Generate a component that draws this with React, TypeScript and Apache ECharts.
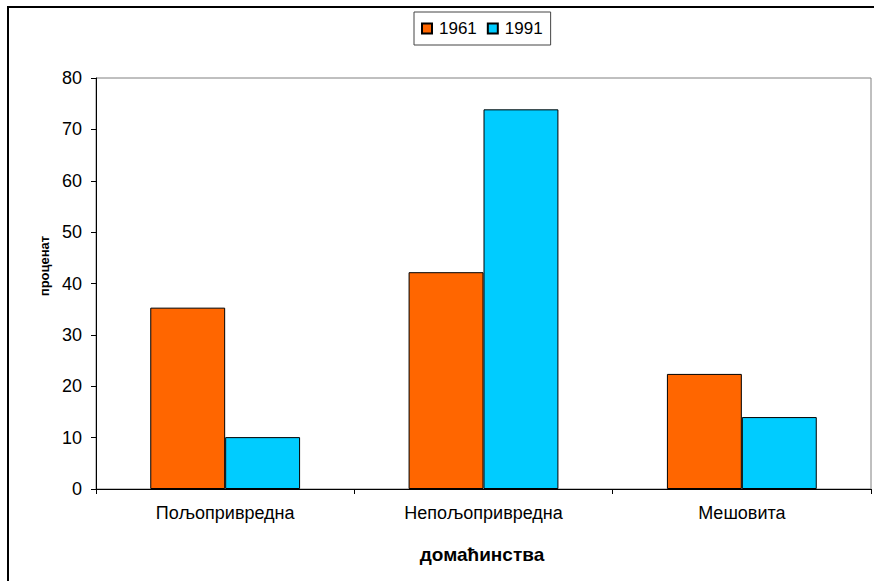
import React, { useEffect, useRef } from "react";
import * as echarts from "echarts";

const categories = ["Пољопривредна", "Непољопривредна", "Мешовита"];
const series1961 = [35.3, 42.2, 22.4];
const series1991 = [10.1, 73.9, 14.0];
const seriesNames = ["1961", "1991"];
const yTicks = { min: 0, max: 80, interval: 10 };

const FONT = "'Liberation Sans', Arial, sans-serif";

export default function App() {
  const ref = useRef<HTMLDivElement>(null);
  useEffect(() => {
    if (!ref.current) return;
    const chart = echarts.init(ref.current, null, { renderer: "svg" });
    chart.setOption({
      animation: false,
      backgroundColor: "#ffffff",
      textStyle: { fontFamily: FONT, color: "#000" },
      graphic: [
        {
          type: "rect",
          shape: { x: 8, y: 7, width: 900, height: 600 },
          style: { fill: "none", stroke: "#000", lineWidth: 2 },
          silent: true,
          z: 0,
        },
        {
          type: "text",
          x: 44,
          y: 266,
          rotation: Math.PI / 2,
          style: {
            text: "проценат",
            fontFamily: FONT,
            fontWeight: "bold",
            fontSize: 13,
            fill: "#000",
            align: "center",
            verticalAlign: "middle",
          },
        },
        {
          type: "text",
          x: 482,
          y: 554,
          style: {
            text: "домаћинства",
            fontFamily: FONT,
            fontWeight: "bold",
            fontSize: 19,
            fill: "#000",
            align: "center",
            verticalAlign: "middle",
          },
        },
      ],
      legend: {
        data: seriesNames,
        left: 414,
        top: 12,
        padding: [8, 8, 8, 7],
        itemGap: 10,
        itemWidth: 10,
        itemHeight: 10,
        icon: "rect",
        borderColor: "#444",
        borderWidth: 1,
        textStyle: { fontFamily: FONT, fontSize: 17, color: "#000", padding: [0, 0, 0, 2] },
      },
      grid: {
        left: 96,
        right: 3,
        top: 78,
        bottom: 92,
        show: true,
        borderColor: "#808080",
        borderWidth: 1,
        containLabel: false,
      },
      xAxis: {
        type: "category",
        data: categories,
        axisLine: { show: true, lineStyle: { color: "#000", width: 1 } },
        axisTick: { show: true, inside: false, length: 5, alignWithLabel: false, lineStyle: { color: "#000" } },
        axisLabel: { fontFamily: FONT, fontSize: 18, color: "#000", margin: 15 },
        splitLine: { show: false },
      },
      yAxis: {
        type: "value",
        min: yTicks.min,
        max: yTicks.max,
        interval: yTicks.interval,
        axisLine: { show: true, lineStyle: { color: "#000", width: 1 } },
        axisTick: { show: true, inside: false, length: 5, lineStyle: { color: "#000" } },
        axisLabel: { fontFamily: FONT, fontSize: 18, color: "#000", margin: 14 },
        splitLine: { show: false },
      },
      series: [
        {
          name: seriesNames[0],
          type: "bar",
          data: series1961,
          barGap: "0%",
          barCategoryGap: "42%",
          itemStyle: { color: "#FF6600", borderColor: "#000", borderWidth: 1 },
        },
        {
          name: seriesNames[1],
          type: "bar",
          data: series1991,
          barGap: "0%",
          barCategoryGap: "42%",
          itemStyle: { color: "#00CCFF", borderColor: "#000", borderWidth: 1 },
        },
      ],
    });
    return () => chart.dispose();
  }, []);
  return (
    <div
      ref={ref}
      style={{ position: "fixed", left: 0, top: 0, width: 874, height: 581 }}
    />
  );
}
